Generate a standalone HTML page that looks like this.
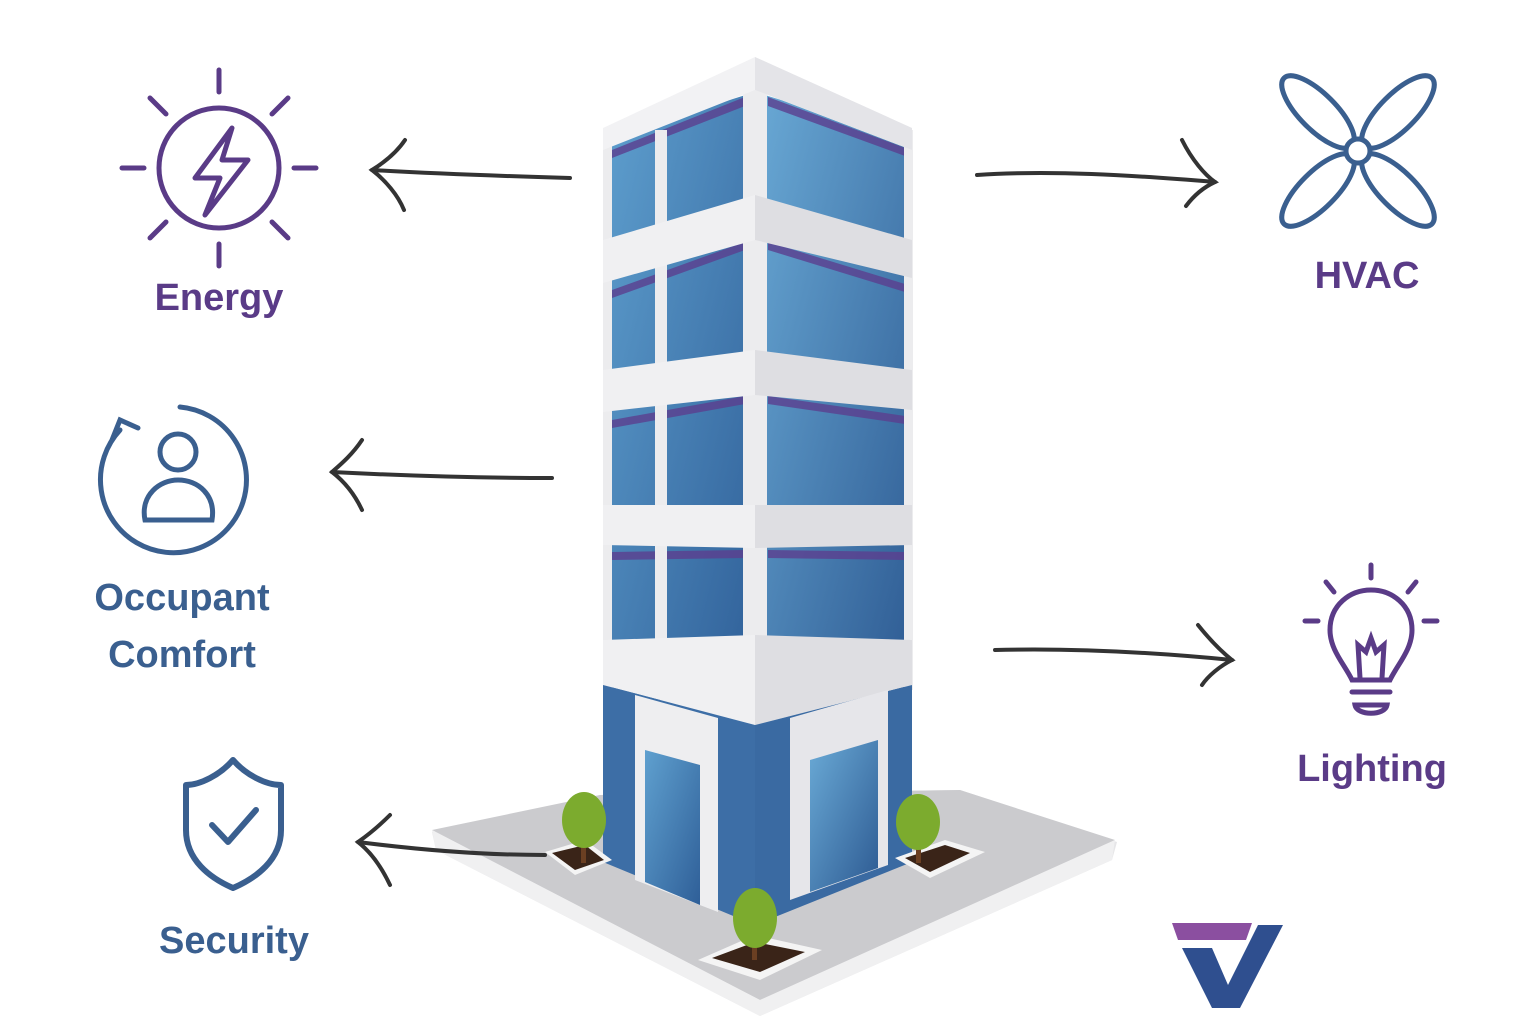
<!DOCTYPE html>
<html><head><meta charset="utf-8"><style>
html,body{margin:0;padding:0;background:#fff;}
svg{display:block}
text{font-family:"Liberation Sans",sans-serif;font-weight:bold;}
</style></head><body>
<svg width="1536" height="1024" viewBox="0 0 1536 1024" xmlns="http://www.w3.org/2000/svg">
<defs>
<linearGradient id="gl" x1="0" y1="0" x2="1" y2="1">
<stop offset="0" stop-color="#5fa0cf"/><stop offset="1" stop-color="#2f5f98"/></linearGradient>
<linearGradient id="gr" x1="0" y1="0" x2="1" y2="1">
<stop offset="0" stop-color="#6aaad6"/><stop offset="1" stop-color="#2d5a92"/></linearGradient>
</defs>
<rect width="1536" height="1024" fill="#fff"/>

<!-- ground plate -->
<polygon points="432,832 600,795 960,790 1117,842 1112,860 760,1016 436,850" fill="#e6e6e8"/>
<polygon points="432,830 600,795 960,790 1115,840 760,1000" fill="#cbcbce"/>
<polygon points="436,850 760,1016 1112,860 1115,840 760,1000 432,830" fill="#f0f0f1"/>

<!-- building faces glass -->
<polygon points="603,140 755,92 755,700 603,700" fill="url(#gl)"/>
<polygon points="755,92 912,140 912,700 755,700" fill="url(#gr)"/>
<g fill="#5b3f8f" opacity="0.8">
<polygon points="612,150 745,97 745,106 612,158"/>
<polygon points="768,97 905,148 905,156 768,106"/>
<polygon points="612,290 745,242 745,250 612,298"/>
<polygon points="768,242 905,284 905,292 768,250"/>
<polygon points="612,420 745,396 745,404 612,428"/>
<polygon points="768,396 905,416 905,424 768,404"/>
<polygon points="612,552 745,550 745,558 612,560"/>
<polygon points="768,550 905,552 905,560 768,558"/>
</g>
<g fill="#ececee">
<rect x="655" y="130" width="12" height="560"/>
<rect x="743" y="90" width="24" height="600"/>
<rect x="603" y="130" width="9" height="560"/>
<rect x="904" y="130" width="9" height="560"/>
</g>
<polygon points="603,128 755,57 912,128 912,150 755,90 603,150" fill="#f2f2f4"/>
<polygon points="755,57 912,128 912,150 755,90" fill="#e4e4e8"/>
<g>
<polygon points="603,240 755,195 755,240 603,283" fill="#f0f0f2"/>
<polygon points="755,195 912,240 912,278 755,240" fill="#dedee2"/>
<polygon points="603,370 755,350 755,395 603,412" fill="#f0f0f2"/>
<polygon points="755,350 912,370 912,410 755,395" fill="#dedee2"/>
<polygon points="603,505 755,505 755,548 603,545" fill="#f0f0f2"/>
<polygon points="755,505 912,505 912,545 755,548" fill="#dedee2"/>
<polygon points="603,640 755,635 755,725 603,685" fill="#f0f0f2"/>
<polygon points="755,635 912,640 912,685 755,725" fill="#dedee2"/>
</g>
<polygon points="603,685 755,725 755,925 603,862" fill="#3d6ea6"/>
<polygon points="755,725 912,685 912,862 755,925" fill="#3a6aa2"/>
<polygon points="635,695 718,718 718,912 635,880" fill="#eeeef0"/>
<polygon points="645,750 700,765 700,905 645,882" fill="url(#gl)"/>
<polygon points="790,718 888,690 888,865 790,900" fill="#e6e6ea"/>
<polygon points="810,760 878,740 878,868 810,892" fill="url(#gr)"/>

<!-- trees -->
<g>
<polygon points="545,852 585,840 612,860 575,875" fill="#f4f4f4"/>
<polygon points="552,853 585,845 604,860 575,870" fill="#3a2418"/>
<rect x="581" y="835" width="5" height="28" fill="#6b3f22"/>
<ellipse cx="584" cy="820" rx="22" ry="28" fill="#7cab2e"/>
<polygon points="895,858 945,840 985,852 930,878" fill="#f4f4f4"/>
<polygon points="905,858 945,845 970,853 930,872" fill="#3a2418"/>
<rect x="916" y="835" width="5" height="28" fill="#6b3f22"/>
<ellipse cx="918" cy="822" rx="22" ry="28" fill="#7cab2e"/>
<polygon points="698,960 755,935 822,950 760,980" fill="#f4f4f4"/>
<polygon points="712,958 755,942 805,952 760,972" fill="#3a2418"/>
<rect x="752" y="932" width="5" height="28" fill="#6b3f22"/>
<ellipse cx="755" cy="918" rx="22" ry="30" fill="#7cab2e"/>
</g>

<!-- arrows -->
<g fill="none" stroke="#333" stroke-width="4" stroke-linecap="round">
<path d="M570,178 C500,176 440,174 372,170"/><path d="M405,140 C395,155 380,165 372,170 C385,180 398,195 404,210"/>
<path d="M552,478 C480,478 410,476 332,472"/><path d="M362,440 C352,455 340,465 332,472 C345,482 355,495 362,510"/>
<path d="M545,855 C480,855 420,850 358,842"/><path d="M390,815 C380,825 368,835 358,842 C372,853 382,868 390,885"/>
<path d="M977,175 C1050,170 1130,175 1215,182"/><path d="M1182,140 C1192,160 1205,175 1215,182 C1202,188 1192,198 1186,206"/>
<path d="M995,650 C1070,648 1150,652 1232,660"/><path d="M1198,625 C1210,640 1222,652 1232,660 C1220,666 1208,676 1202,685"/>
</g>

<!-- Energy icon -->
<g stroke="#5a3b87" stroke-width="5" fill="none" stroke-linecap="round">
<circle cx="219" cy="168" r="60"/>
<line x1="219" y1="70" x2="219" y2="92"/><line x1="219" y1="244" x2="219" y2="266"/>
<line x1="122" y1="168" x2="144" y2="168"/><line x1="294" y1="168" x2="316" y2="168"/>
<line x1="150" y1="98" x2="166" y2="114"/><line x1="272" y1="222" x2="288" y2="238"/>
<line x1="288" y1="98" x2="272" y2="114"/><line x1="150" y1="238" x2="166" y2="222"/>
<path d="M232,128 L195,178 L220,178 L205,215 L248,160 L222,160 Z" stroke-linejoin="round"/>
</g>
<text x="219" y="310" font-size="38" fill="#5a3b87" text-anchor="middle">Energy</text>

<!-- HVAC fan -->
<g stroke="#3a5f8f" stroke-width="5" fill="#fff">
<ellipse cx="1318" cy="112" rx="48" ry="18" transform="rotate(45 1318 112)"/>
<ellipse cx="1398" cy="112" rx="48" ry="18" transform="rotate(-45 1398 112)"/>
<ellipse cx="1318" cy="190" rx="48" ry="18" transform="rotate(-45 1318 190)"/>
<ellipse cx="1398" cy="190" rx="48" ry="18" transform="rotate(45 1398 190)"/>
<circle cx="1358" cy="151" r="12"/>
</g>
<text x="1367" y="288" font-size="38" fill="#5a3b87" text-anchor="middle">HVAC</text>

<!-- Occupant -->
<g stroke="#3a5f8f" stroke-width="5" fill="none" stroke-linecap="round">
<path d="M120,430 A73,73 0 1,0 180,407"/>
<path d="M112,440 L120,420 L138,428"/>
<circle cx="178" cy="452" r="18"/>
<path d="M145,520 C140,495 160,480 178,480 C198,480 216,495 212,520 Z"/>
</g>
<text x="182" y="610" font-size="38" fill="#3a5f8f" text-anchor="middle">Occupant</text>
<text x="182" y="667" font-size="38" fill="#3a5f8f" text-anchor="middle">Comfort</text>

<!-- Shield -->
<g stroke="#3a5f8f" stroke-width="6" fill="none" stroke-linejoin="round" stroke-linecap="round">
<path d="M233,760 C220,775 200,785 186,785 L186,830 C186,860 210,878 233,888 C256,878 281,860 281,830 L281,785 C266,785 246,775 233,760 Z"/>
<path d="M212,825 L228,842 L256,810"/>
</g>
<text x="234" y="953" font-size="38" fill="#3a5f8f" text-anchor="middle">Security</text>

<!-- Lighting bulb -->
<g stroke="#5a3b87" stroke-width="5" fill="none" stroke-linecap="round">
<line x1="1371" y1="565" x2="1371" y2="578"/>
<line x1="1326" y1="582" x2="1334" y2="592"/><line x1="1416" y1="582" x2="1408" y2="592"/>
<line x1="1305" y1="621" x2="1318" y2="621"/><line x1="1424" y1="621" x2="1437" y2="621"/>
<path d="M1352,680 C1345,665 1330,650 1330,630 C1330,605 1350,590 1371,590 C1392,590 1412,605 1412,630 C1412,650 1397,665 1390,680 Z"/>
<path d="M1360,678 L1358,645 L1366,652 L1371,638 L1376,652 L1384,645 L1382,678"/>
<line x1="1352" y1="692" x2="1390" y2="692"/>
<path d="M1355,705 L1387,705 C1385,716 1357,716 1355,705 Z"/>
</g>
<text x="1372" y="781" font-size="38" fill="#5a3b87" text-anchor="middle">Lighting</text>

<!-- logo -->
<polygon points="1172,923 1252,923 1246,940 1178,940" fill="#8b4fa0"/>
<polygon points="1182,948 1212,948 1228,985 1258,925 1283,925 1240,1008 1212,1008" fill="#2f4f8f"/>
</svg>
</body></html>
